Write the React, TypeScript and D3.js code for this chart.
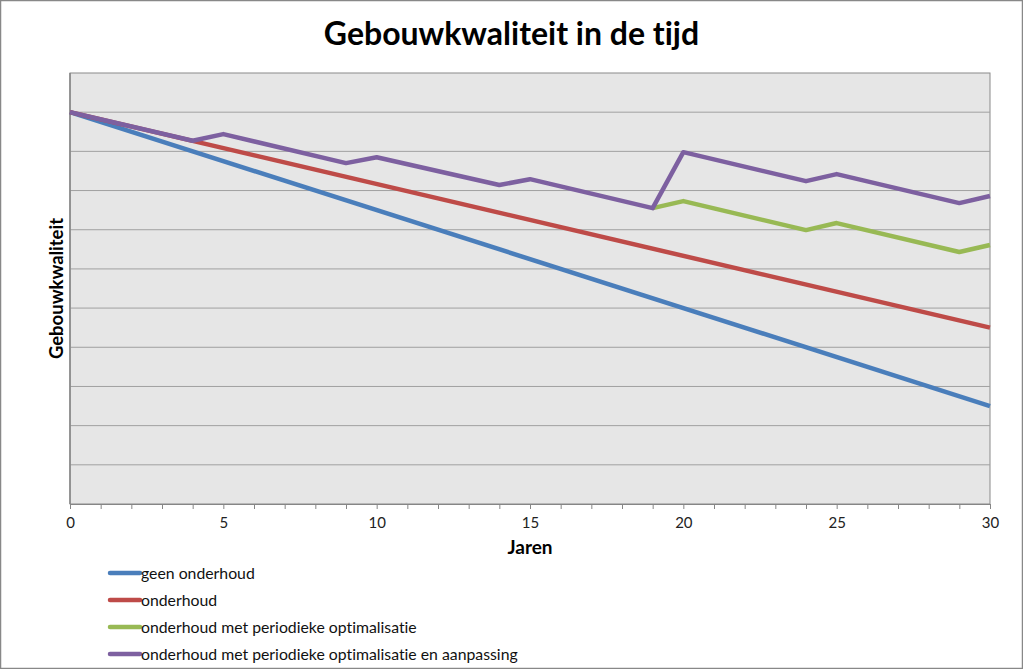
import * as d3 from 'd3'
import React, { useEffect, useRef } from 'react'

const years = [0, 4, 5, 9, 10, 14, 15, 19, 20, 24, 25, 29, 30];
const geenOnderhoud = [{ x: 0, y: 10 }, { x: 30, y: 2.5 }];
const onderhoud = [{ x: 0, y: 10 }, { x: 30, y: 4.5 }];
const optimalisatieYears = [19, 20, 24, 25, 29, 30];
const optimalisatieValues = [7.55, 7.73, 6.99, 7.17, 6.43, 6.61];
const aanpassingValues = [10, 9.27, 9.44, 8.7, 8.85, 8.14, 8.29, 7.55, 8.98, 8.24, 8.42, 7.68, 7.86];
const seriesNames = [
    'geen onderhoud',
    'onderhoud',
    'onderhoud met periodieke optimalisatie',
    'onderhoud met periodieke optimalisatie en aanpassing',
];
const seriesColors = ['#4a7ebb', '#be4b48', '#98b954', '#7d60a0'];
const xTicks = [0, 5, 10, 15, 20, 25, 30];

const App: React.FC = () => {
    const chartRef = useRef<SVGSVGElement>(null);

    useEffect(() => {
        if (!chartRef.current) return;
        const width = 1023;
        const height = 669;
        const margin = { top: 73, right: 33, bottom: 165, left: 70 };
        const font = 'Lato, "Open Sans", sans-serif';

        const svg = d3.select(chartRef.current)
            .style('font-variant-ligatures', 'none');
        svg.selectAll('*').remove();

        svg.append('rect')
            .attr('x', 0.5).attr('y', 0.5)
            .attr('width', width - 1).attr('height', height - 1)
            .attr('fill', 'white').attr('stroke', '#888').attr('stroke-width', 1.5);

        const x = d3.scaleLinear().domain([0, 30]).range([margin.left, width - margin.right]);
        const y = d3.scaleLinear().domain([0, 11]).range([height - margin.bottom, margin.top]);

        svg.append('rect')
            .attr('x', x(0)).attr('y', y(11))
            .attr('width', x(30) - x(0)).attr('height', y(0) - y(11))
            .attr('fill', '#e6e6e6').attr('stroke', '#8a8a8a').attr('stroke-width', 1);

        svg.append('g')
            .selectAll('line')
            .data(d3.range(1, 11))
            .enter()
            .append('line')
            .attr('x1', x(0)).attr('x2', x(30))
            .attr('y1', d => y(d)).attr('y2', d => y(d))
            .attr('stroke', '#a0a0a0').attr('stroke-width', 1);

        const xAxis = d3.axisBottom(x).tickValues(d3.range(0, 31)).tickSize(5)
            .tickFormat(d => (xTicks.includes(+d) ? String(d) : ''));
        const gx = svg.append('g')
            .attr('transform', `translate(0,${y(0)})`)
            .call(xAxis);
        gx.select('.domain').attr('stroke', '#868686');
        gx.selectAll('.tick line').attr('stroke', '#868686');
        gx.selectAll('.tick text')
            .attr('font-family', font).attr('font-size', 15).attr('fill', '#222').attr('dy', '1.05em');

        svg.append('line')
            .attr('x1', x(0)).attr('x2', x(0))
            .attr('y1', y(0)).attr('y2', y(11))
            .attr('stroke', '#868686').attr('stroke-width', 1.5);

        const line = d3.line<{ x: number; y: number }>()
            .x(d => x(d.x))
            .y(d => y(d.y));

        const data = [
            geenOnderhoud,
            onderhoud,
            optimalisatieYears.map((yr, i) => ({ x: yr, y: optimalisatieValues[i] })),
            years.map((yr, i) => ({ x: yr, y: aanpassingValues[i] })),
        ];

        svg.append('g')
            .selectAll('path')
            .data(data)
            .enter()
            .append('path')
            .attr('d', line)
            .attr('fill', 'none')
            .attr('stroke', (_, i) => seriesColors[i])
            .attr('stroke-width', 4.5)
            .attr('stroke-linejoin', 'round');

        svg.append('text')
            .attr('x', width / 2).attr('y', 45)
            .attr('text-anchor', 'middle')
            .attr('font-family', font).attr('font-weight', 'bold').attr('font-size', 32)
            .text('Gebouwkwaliteit in de tijd');

        svg.append('text')
            .attr('x', (x(0) + x(30)) / 2).attr('y', 554)
            .attr('text-anchor', 'middle')
            .attr('font-family', font).attr('font-weight', 'bold').attr('font-size', 19)
            .text('Jaren');

        svg.append('text')
            .attr('transform', `translate(63,${(y(0) + y(11)) / 2}) rotate(-90)`)
            .attr('text-anchor', 'middle')
            .attr('font-family', font).attr('font-weight', 'bold').attr('font-size', 18.5)
            .text('Gebouwkwaliteit');

        const legend = svg.append('g')
            .selectAll('g')
            .data(seriesNames)
            .enter()
            .append('g')
            .attr('transform', (_, i) => `translate(110,${573 + i * 27})`);
        legend.append('line')
            .attr('x1', 0).attr('x2', 30)
            .attr('stroke', (_, i) => seriesColors[i])
            .attr('stroke-width', 4.5)
            .attr('stroke-linecap', 'round');
        legend.append('text')
            .attr('x', 31).attr('dy', '0.35em')
            .attr('font-family', font).attr('font-size', 15.8).attr('fill', '#111')
            .text(d => d);
    }, []);

    return (
        <svg ref={chartRef} width={1023} height={669}
            style={{ position: 'absolute', left: 0, top: 0, display: 'block' }} />
    );
};

export default App;
